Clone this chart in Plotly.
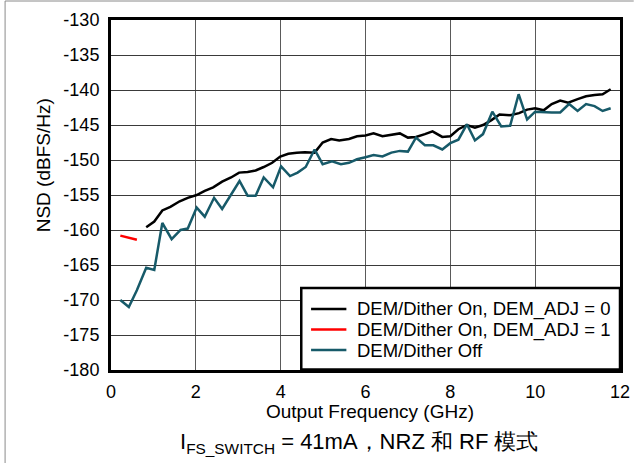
import plotly.graph_objects as go

# ---------------- data ----------------
black_x = [0.83, 1.02, 1.21, 1.40, 1.62, 1.81, 2.02, 2.21, 2.41, 2.62, 2.83, 3.02, 3.22, 3.41, 3.60,
           3.80, 3.99, 4.18, 4.38, 4.57, 4.80, 4.99, 5.19, 5.38, 5.61, 5.80, 6.00, 6.19, 6.40, 6.61,
           6.81, 7.00, 7.19, 7.40, 7.58, 7.81, 8.00, 8.19, 8.39, 8.58, 8.77, 8.97, 9.16, 9.41, 9.62,
           9.81, 10.00, 10.20, 10.39, 10.59, 10.78, 11.00, 11.20, 11.40, 11.59, 11.78]
black_y = [-159.6, -158.8, -157.2, -156.7, -155.9, -155.4, -155.0, -154.4, -153.9, -153.1, -152.5,
           -151.8, -151.7, -151.5, -151.0, -150.4, -149.5, -149.1, -148.95, -148.9, -148.95, -147.5,
           -147.0, -147.2, -147.0, -146.6, -146.5, -146.2, -146.6, -146.4, -146.2, -146.8, -146.7,
           -146.3, -145.9, -146.7, -146.6, -145.6, -145.0, -145.4, -145.0, -144.3, -143.5, -143.6,
           -143.3, -142.8, -142.6, -142.9, -142.0, -141.5, -141.8, -141.3, -140.9, -140.7, -140.6,
           -139.9]

red_x = [0.22, 0.42, 0.61]
red_y = [-160.8, -161.1, -161.4]

teal_x = [0.22, 0.42, 0.61, 0.83, 1.02, 1.21, 1.43, 1.64, 1.81, 2.02, 2.21, 2.43, 2.62, 2.83, 3.03,
          3.22, 3.41, 3.60, 3.82, 4.01, 4.22, 4.40, 4.59, 4.80, 4.99, 5.21, 5.42, 5.61, 5.80, 6.00,
          6.19, 6.40, 6.61, 6.81, 7.00, 7.19, 7.40, 7.60, 7.81, 8.00, 8.19, 8.39, 8.58, 8.77, 8.99,
          9.20, 9.41, 9.61, 9.81, 10.00, 10.20, 10.39, 10.59, 10.80, 11.00, 11.20, 11.40, 11.59, 11.78]
teal_y = [-170.0, -171.0, -168.6, -165.4, -165.7, -159.0, -161.3, -160.0, -159.8, -156.8, -158.1,
          -155.4, -157.0, -155.0, -153.0, -155.1, -155.1, -152.5, -153.9, -150.9, -152.3, -151.8,
          -151.0, -148.5, -150.6, -150.2, -150.6, -150.4, -149.9, -149.6, -149.3, -149.5, -148.95,
          -148.7, -148.8, -146.8, -147.9, -147.9, -148.5, -147.6, -147.1, -144.9, -147.2, -146.3,
          -143.1, -145.2, -145.1, -140.6, -144.2, -143.1, -143.2, -143.2, -143.2, -142.0, -143.0,
          -142.0, -142.3, -143.0, -142.6]

series_names = ["DEM/Dither On, DEM_ADJ = 0", "DEM/Dither On, DEM_ADJ = 1", "DEM/Dither Off"]
series_colors = ["#000000", "#ff0000", "#175a69"]

x_tickvals = [0, 2, 4, 6, 8, 10, 12]
x_ticktext = ["0", "2", "4", "6", "8", "10", "12"]
y_tickvals = [-180, -175, -170, -165, -160, -155, -150, -145, -140, -135, -130]
y_ticktext = ["-180", "-175", "-170", "-165", "-160", "-155", "-150", "-145", "-140", "-135", "-130"]

x_title = "Output Frequency (GHz)"
y_title = "NSD (dBFS/Hz)"
caption = "I<sub>FS_SWITCH</sub> = 41mA，NRZ 和 RF 模式"

# ---------------- figure ----------------
W, H = 639, 463
L, R, T, B = 111, 9, 20, 93
pw, ph = W - L - R, H - T - B


def px_x(p):
    return (p - L) / pw


def px_y(p):
    return (H - B - p) / ph


FONT = "Liberation Sans, Arial, sans-serif"

fig = go.Figure()
for xs, ys, name, col in zip([black_x, red_x, teal_x], [black_y, red_y, teal_y],
                             series_names, series_colors):
    fig.add_trace(go.Scatter(x=xs, y=ys, mode="lines", name=name, showlegend=False,
                             line=dict(color=col, width=2.5)))

fig.update_layout(
    width=W, height=H,
    margin=dict(l=L, r=R, t=T, b=B, pad=0),
    paper_bgcolor="white", plot_bgcolor="white",
    font=dict(family=FONT, color="black"),
    showlegend=False,
)
fig.update_xaxes(range=[0, 12], tickvals=x_tickvals, ticktext=x_ticktext,
                 showgrid=True, gridcolor="#5a5a5a", gridwidth=1, zeroline=False,
                 showline=True, linecolor="black", linewidth=3, mirror=True,
                 ticks="", tickfont=dict(size=18, family=FONT), ticklabelstandoff=3)
fig.update_yaxes(range=[-180, -130], tickvals=y_tickvals, ticktext=y_ticktext,
                 showgrid=True, gridcolor="#3a3a3a", gridwidth=1, zeroline=False,
                 showline=True, linecolor="black", linewidth=3, mirror=True,
                 ticks="", tickfont=dict(size=18, family=FONT), ticklabelstandoff=5)

ann = []
ann.append(dict(text=y_title, x=px_x(42), y=px_y(165), xref="paper", yref="paper",
                textangle=-90, showarrow=False, font=dict(size=19, family=FONT),
                xanchor="center", yanchor="middle"))
ann.append(dict(text=x_title, x=px_x(375), y=px_y(411), xref="paper", yref="paper",
                showarrow=False, font=dict(size=19, family=FONT),
                xanchor="center", yanchor="middle"))
ann.append(dict(text=caption, x=px_x(364), y=px_y(443), xref="paper", yref="paper",
                showarrow=False, font=dict(size=22, family=FONT),
                xanchor="center", yanchor="middle"))

shapes = []
# outer frame (top and left)
shapes.append(dict(type="line", xref="paper", yref="paper", x0=px_x(3), x1=px_x(W + 5),
                   y0=px_y(1), y1=px_y(1), line=dict(color="#8a8a8a", width=1)))
shapes.append(dict(type="line", xref="paper", yref="paper", x0=px_x(3), x1=px_x(3),
                   y0=px_y(1), y1=px_y(H + 5), line=dict(color="#8a8a8a", width=1)))

# manual legend
shapes.append(dict(type="rect", xref="paper", yref="paper", x0=px_x(305), x1=px_x(630),
                   y0=px_y(369.5), y1=px_y(288), line=dict(color="black", width=2.5),
                   fillcolor="white", layer="above"))
rows = [309, 329.5, 350]
for name, col, ry in zip(series_names, series_colors, rows):
    shapes.append(dict(type="line", xref="paper", yref="paper", x0=px_x(315), x1=px_x(351),
                       y0=px_y(ry), y1=px_y(ry), line=dict(color=col, width=2.5), layer="above"))
    ann.append(dict(text=name, x=px_x(360), y=px_y(ry), xref="paper", yref="paper",
                    showarrow=False, font=dict(size=18.5, family=FONT),
                    xanchor="left", yanchor="middle"))

fig.update_layout(annotations=ann, shapes=shapes)
fig.write_html("out.html", config={"displayModeBar": False},
               post_script="document.body.style.margin='0';document.body.style.overflow='hidden';")
